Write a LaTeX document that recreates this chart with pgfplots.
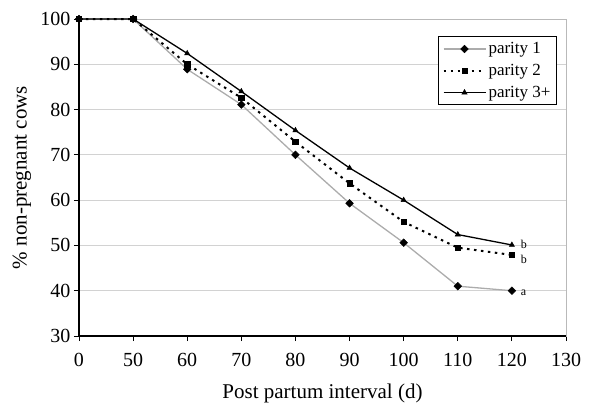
\documentclass[border=0pt]{standalone}
\usepackage{fontspec}
\setmainfont{Liberation Serif}
\usepackage{pgfplots}
\pgfplotsset{compat=1.18}

\pgfplotstableread{
x p1 p2 p3
0 100 100 100
1 100 100 100
2 88.9 90.0 92.4
3 81.1 82.6 84.0
4 70.0 72.9 75.4
5 59.3 63.7 67.1
6 50.6 55.2 60.0
7 41.0 49.5 52.4
8 40.0 47.9 50.1
}\datatable

\begin{document}
\begin{tikzpicture}[x=1pt,y=1pt]
\begin{axis}[
  scale only axis,
  width=487pt, height=317pt,
  xmin=0, xmax=9,
  ymin=30, ymax=100,
  xtick={0,...,9},
  xticklabels={0,50,60,70,80,90,100,110,120,130},
  ytick={30,40,...,100},
  xtick pos=left, ytick pos=left,
  tick align=outside,
  major tick length=5pt,
  tick style={black, line width=0.8pt},
  axis line style={gray!55, line width=1pt},
  ymajorgrids,
  grid style={gray!35, line width=1pt},
  ticklabel style={font=\fontsize{20}{20}\selectfont},
  xticklabel style={yshift=-9pt},
  /pgf/number format/assume math mode=true,
  xlabel={Post partum interval (d)},
  ylabel={\% non-pregnant cows},
  xlabel style={font=\fontsize{21}{21}\selectfont, inner sep=0pt,
    at={(axis description cs:0.5,-0.2105)}, anchor=south},
  ylabel style={font=\fontsize{21}{21}\selectfont,
    at={(axis description cs:-0.117,0.5)}, anchor=center},
  legend style={at={(0.9815,0.946)}, anchor=north east, draw=black,
    line width=1pt, font=\fontsize{17}{17}\selectfont,
    row sep=5pt, inner xsep=4pt, inner ysep=4pt},
  legend cell align=left,
  legend image code/.code={%
    \draw[mark repeat=2,mark phase=2] plot coordinates {(0pt,0pt) (21pt,0pt) (42pt,0pt)};},
  clip=false,
]
\addplot[gray!65, line width=1.3pt, mark=square*, mark size=2.7pt,
  mark options={solid, rotate=45, fill=black, draw=black, line width=0.5pt}]
  table[x=x, y=p1] {\datatable};
\addlegendentry{parity 1}
\addplot[black, line width=2pt, dash pattern=on 2.5pt off 4.5pt, mark=square*, mark size=2.7pt,
  mark options={solid, fill=black, draw=black, line width=0.5pt}]
  table[x=x, y=p2] {\datatable};
\addlegendentry{parity 2}
\addplot[black, line width=1.3pt, mark=triangle*, mark size=3pt,
  mark options={solid, fill=black, draw=black, line width=0.5pt}]
  table[x=x, y=p3] {\datatable};
\addlegendentry{parity 3+}
\draw[black, line width=1.2pt] (rel axis cs:0,1) -- (rel axis cs:0,0) -- (rel axis cs:1,0);
\node[anchor=west, font=\fontsize{12}{12}\selectfont] at (axis cs:8.1,39.6) {a};
\node[anchor=west, font=\fontsize{12}{12}\selectfont] at (axis cs:8.1,50.3) {b};
\node[anchor=west, font=\fontsize{12}{12}\selectfont] at (axis cs:8.1,46.9) {b};
\end{axis}
\pgfresetboundingbox
\path (-79,-68) rectangle (512,336);
\end{tikzpicture}
\end{document}
